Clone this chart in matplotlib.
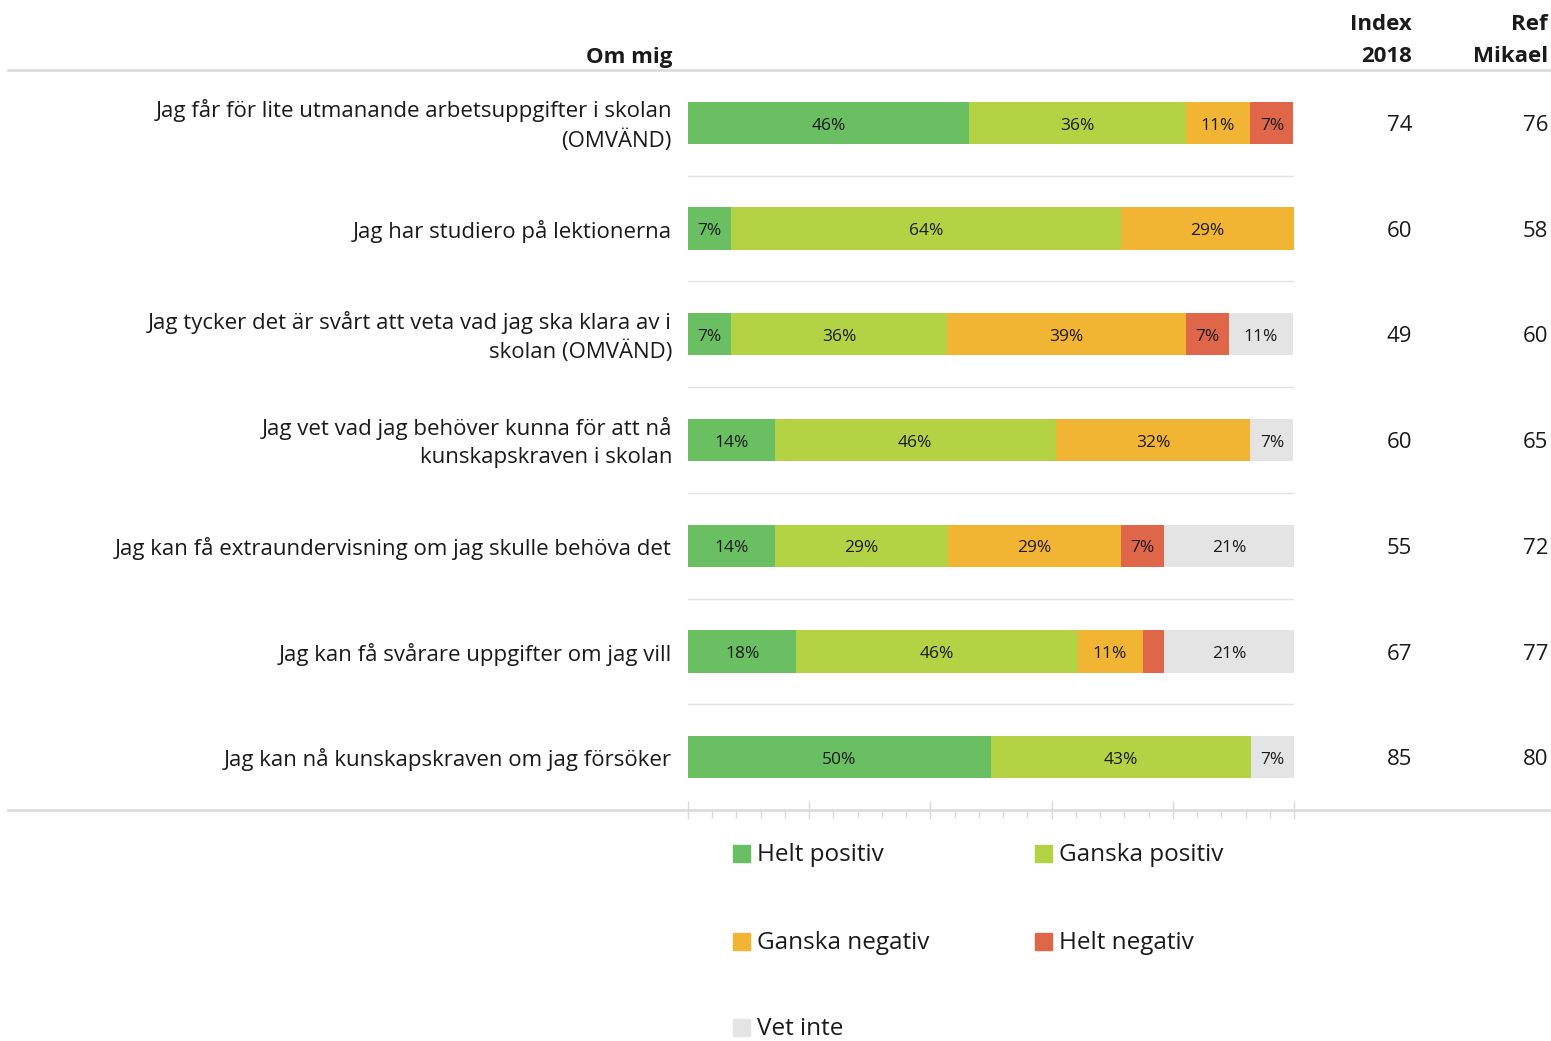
import matplotlib
matplotlib.use("Agg")
import matplotlib.pyplot as plt
import numpy as np
from matplotlib.patches import Rectangle
from matplotlib.lines import Line2D

plt.rcParams['font.family'] = ['Open Sans', 'DejaVu Sans']

questions = [
    "Jag får för lite utmanande arbetsuppgifter i skolan\n(OMVÄND)",
    "Jag har studiero på lektionerna",
    "Jag tycker det är svårt att veta vad jag ska klara av i\nskolan (OMVÄND)",
    "Jag vet vad jag behöver kunna för att nå\nkunskapskraven i skolan",
    "Jag kan få extraundervisning om jag skulle behöva det",
    "Jag kan få svårare uppgifter om jag vill",
    "Jag kan nå kunskapskraven om jag försöker",
]
categories = ["Helt positiv", "Ganska positiv", "Ganska negativ", "Helt negativ", "Vet inte"]
helt_pos = [46.4, 7.1, 7.1, 14.3, 14.3, 17.9, 50.0]
ganska_pos = [35.7, 64.3, 35.7, 46.4, 28.6, 46.4, 42.9]
ganska_neg = [10.7, 28.6, 39.3, 32.1, 28.6, 10.7, 0]
helt_neg = [7.1, 0, 7.1, 0, 7.1, 3.6, 0]
vet_inte = [0, 0, 10.7, 7.1, 21.4, 21.4, 7.1]
index_2018 = [74, 60, 49, 60, 55, 67, 85]
ref_mikael = [76, 58, 60, 65, 72, 77, 80]

colors = ["#6abf62", "#b3d344", "#f2b533", "#e0664a", "#e4e4e4"]
txt = "#1a1a1a"

W, H = 1551, 1041
fig = plt.figure(figsize=(W / 100, H / 100), dpi=100)


def fx(px):
    return px / W


def fy(py):
    return 1 - py / H


ax = fig.add_axes([fx(688), fy(810), fx(1294) - fx(688), fy(70) - fy(810)])

dy = 0.025  # small downward nudge for text, in row units

series = [helt_pos, ganska_pos, ganska_neg, helt_neg, vet_inte]
y = np.arange(len(questions))
left = np.zeros(len(questions))
for vals, col in zip(series, colors):
    vals = np.array(vals, dtype=float)
    ax.barh(y, vals, left=left, height=0.4, color=col, edgecolor='none')
    for yi, (l, v) in enumerate(zip(left, vals)):
        if v >= 5:
            ax.text(l + v / 2, yi + dy, f"{round(v)}%", ha='center', va='center',
                    fontsize=12.5, color=txt)
    left += vals

ax.set_xlim(0, 100)
ax.set_ylim(len(questions) - 0.5, -0.5)

# separators between rows
for k in range(len(questions) - 1):
    ax.axhline(k + 0.5, color="#e3e3e3", lw=1)

for s in ['top', 'right', 'left', 'bottom']:
    ax.spines[s].set_visible(False)
ax.set_yticks([])
ax.set_xticks(np.arange(0, 101, 20))
ax.set_xticks(np.arange(0, 101, 4), minor=True)
ax.tick_params(axis='x', which='major', direction='inout', length=13, width=1,
               color="#d9d9d9", labelbottom=False)
ax.tick_params(axis='x', which='minor', direction='out', length=6, width=1,
               color="#d9d9d9")

# row labels and index columns
trans = ax.get_yaxis_transform()
for yi, q in enumerate(questions):
    ax.text(-16 / 606, yi + dy, q, transform=trans, ha='right', va='center',
            multialignment='right', fontsize=16, color=txt, linespacing=1.4)
    ax.text((1412 - 688) / 606, yi + dy, str(index_2018[yi]), transform=trans,
            ha='right', va='center', fontsize=16, color=txt)
    ax.text((1548 - 688) / 606, yi + dy, str(ref_mikael[yi]), transform=trans,
            ha='right', va='center', fontsize=16, color=txt)

# header
hdr = dict(ha='right', va='center', fontsize=16, fontweight='bold', color=txt)
fig.text(fx(672), fy(57), "Om mig", **hdr)
fig.text(fx(1412), fy(25), "Index", **hdr)
fig.text(fx(1412), fy(57), "2018", **hdr)
fig.text(fx(1548), fy(25), "Ref", **hdr)
fig.text(fx(1548), fy(57), "Mikael", **hdr)

# horizontal frame lines
for py in (70, 810):
    fig.add_artist(Line2D([fx(8), fx(1550)], [fy(py), fy(py)], color="#d9d9d9", lw=1.8))

# legend, row-major in two columns
leg_pos = [(733, 854), (1035, 854), (733, 942), (1035, 942), (733, 1028)]
for (px, py), lab, col in zip(leg_pos, categories, colors):
    fig.add_artist(Rectangle((fx(px), fy(py + 8)), fx(17), 17 / H, color=col,
                             transform=fig.transFigure))
    fig.text(fx(px + 24), fy(py + 1), lab, ha='left', va='center', fontsize=17.5, color=txt)

fig.savefig("out.png", dpi=100)
